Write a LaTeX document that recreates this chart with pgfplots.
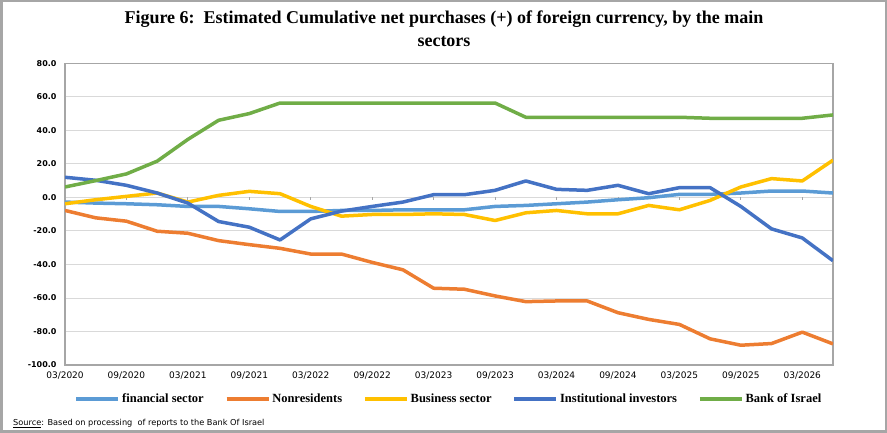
\documentclass[border=0pt]{standalone}
\usepackage{pgfplots}
\pgfplotsset{compat=1.18}
\usepackage{pgfplotstable}
\usepackage{fontspec}
\setmainfont{Liberation Serif}
\newfontfamily\dejavu{DejaVu Sans}
\definecolor{cFin}{RGB}{91,155,213}
\definecolor{cNon}{RGB}{237,125,49}
\definecolor{cBus}{RGB}{255,192,0}
\definecolor{cIns}{RGB}{68,114,196}
\definecolor{cBoi}{RGB}{112,173,71}
\definecolor{frameg}{RGB}{166,166,166}
\definecolor{gridg}{RGB}{217,217,217}

\pgfplotstableread{
i fin non bus ins boi
0 -2.8 -7.8 -3.8 12.0 6.2
1 -3.4 -12.2 -1.4 10.2 10.0
2 -3.8 -14.2 0.6 7.2 14.0
3 -4.4 -20.2 2.6 2.6 21.6
4 -5.4 -21.4 -2.8 -3.4 34.6
5 -5.4 -25.8 1.2 -14.4 46.0
6 -6.8 -28.2 3.6 -17.8 50.0
7 -8.4 -30.4 2.2 -25.4 56.3
8 -8.4 -33.8 -5.4 -12.8 56.3
9 -7.8 -33.8 -11.2 -8.2 56.3
10 -7.8 -38.8 -10.2 -5.4 56.3
11 -7.4 -43.2 -10.2 -2.8 56.3
12 -7.4 -54.2 -9.8 1.6 56.3
13 -7.4 -54.8 -10.2 1.6 56.3
14 -5.4 -58.8 -13.8 4.2 56.3
15 -4.8 -62.2 -9.2 9.8 47.8
16 -3.8 -61.8 -7.8 4.8 47.8
17 -2.8 -61.8 -9.8 4.2 47.8
18 -1.4 -68.8 -9.8 7.2 47.8
19 -0.2 -72.8 -4.8 2.2 47.8
20 1.8 -75.8 -7.4 5.8 47.8
21 1.8 -84.4 -1.8 5.8 47.2
22 2.6 -88.2 6.2 -5.4 47.2
23 3.8 -87.2 11.2 -18.8 47.2
24 3.8 -80.4 9.8 -24.2 47.2
25 2.6 -87.4 22.2 -37.8 49.2
}\data

\begin{document}
\begin{tikzpicture}
\draw[frameg, line width=2.5pt] (1.25pt,1.25pt) rectangle (885.75pt,431.75pt);
\node[font=\bfseries\fontsize{18}{21}\selectfont, anchor=base] at (444pt,409.7pt) {Figure 6:\ \ Estimated Cumulative net purchases (+) of foreign currency, by the main};
\node[font=\bfseries\fontsize{18}{21}\selectfont, anchor=base] at (444pt,386.3pt) {sectors};
\node[anchor=base west, font=\dejavu\fontsize{8.2}{9}\selectfont, inner sep=0pt] at (13pt,7pt) {\underline{Source}: Based on processing\ \ of reports\ to the Bank Of Israel};
\begin{axis}[
  at={(65pt,68pt)}, anchor=south west,
  scale only axis, width=768pt, height=301.7pt,
  xmin=0, xmax=25, ymin=-100, ymax=80,
  ytick={-100,-80,...,80},
  xtick={0,2,...,24},
  xticklabels={03/2020,09/2020,03/2021,09/2021,03/2022,09/2022,03/2023,09/2023,03/2024,09/2024,03/2025,09/2025,03/2026},
  ymajorgrids,
  grid style={gridg, line width=0.9pt},
  axis line style={frameg, line width=1.2pt},
  major tick length=0pt,
  /pgf/number format/assume math mode=true,
  y tick label style={font=\dejavu\bfseries\fontsize{8}{9}\selectfont, xshift=-5pt, /pgf/number format/.cd, fixed, fixed zerofill, precision=1},
  x tick label style={font=\dejavu\fontsize{9}{10}\selectfont, yshift=-3.5pt},
  legend columns=5,
  legend style={at={(0.5,-0.1127)}, anchor=center, draw=none, fill=none,
    font=\bfseries\fontsize{12.5}{14}\selectfont,
    /tikz/every even column/.append style={column sep=19pt}},
  legend image code/.code={\draw[#1, line width=3.5pt] (0pt,0pt) -- (42pt,0pt);},
  every axis plot/.append style={line width=3.5pt, line join=round},
]
\pgfplotsinvokeforeach{0,2,...,24}{\draw[frameg, line width=0.8pt] (axis cs:#1,0) -- ([yshift=-3pt]axis cs:#1,0);}
\addplot[cFin] table[x=i, y=fin] {\data};
\addlegendentry{financial sector}
\addplot[cNon] table[x=i, y=non] {\data};
\addlegendentry{Nonresidents}
\addplot[cBus] table[x=i, y=bus] {\data};
\addlegendentry{Business sector}
\addplot[cIns] table[x=i, y=ins] {\data};
\addlegendentry{Institutional investors}
\addplot[cBoi] table[x=i, y=boi] {\data};
\addlegendentry{Bank of Israel}
\end{axis}
\end{tikzpicture}
\end{document}
